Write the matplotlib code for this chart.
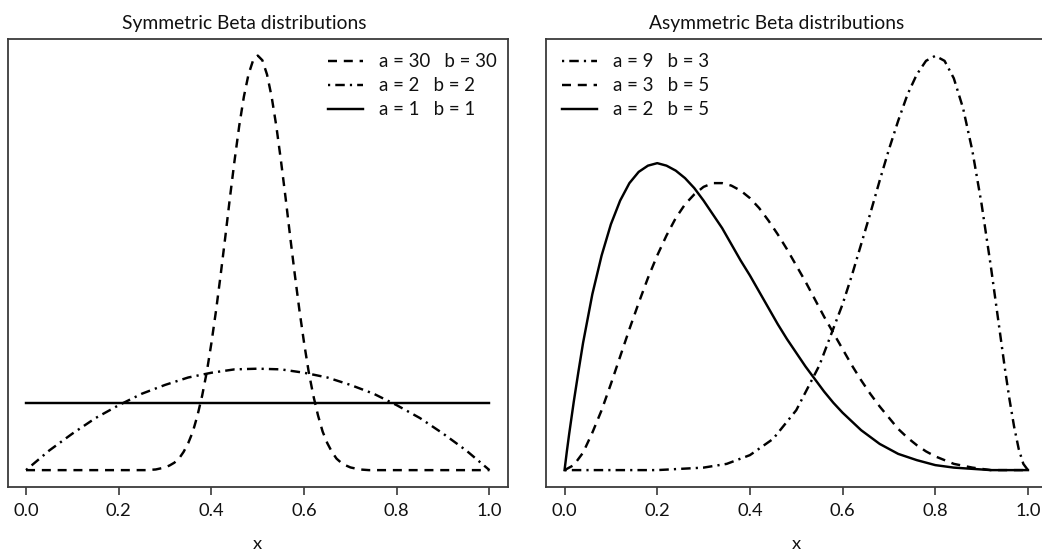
import matplotlib
matplotlib.use("Agg")
import matplotlib.pyplot as plt

plt.rcParams['font.family'] = ['Lato', 'DejaVu Sans']
plt.rcParams['font.size'] = 13

# densities (y in density units)
x_30 = [0.00, 0.20, 0.24, 0.26, 0.28,
        0.30, 0.31, 0.32, 0.33, 0.34, 0.35, 0.36, 0.37, 0.38, 0.39,
        0.40, 0.41, 0.42, 0.43, 0.44, 0.45, 0.46, 0.47, 0.48, 0.49,
        0.50, 0.51, 0.52, 0.53, 0.54, 0.55, 0.56, 0.57, 0.58, 0.59,
        0.60, 0.61, 0.62, 0.63, 0.64, 0.65, 0.66, 0.67, 0.68, 0.69,
        0.70, 0.72, 0.74, 0.76, 0.80, 1.00]
y_30 = [0.00, 0.00, 0.00, 0.00, 0.01,
        0.04, 0.07, 0.11, 0.17, 0.27, 0.40, 0.57, 0.81, 1.10, 1.45,
        1.88, 2.36, 2.89, 3.45, 4.03, 4.58, 5.09, 5.52, 5.85, 6.06,
        6.13, 6.06, 5.85, 5.52, 5.09, 4.58, 4.03, 3.45, 2.89, 2.36,
        1.88, 1.45, 1.10, 0.81, 0.57, 0.40, 0.27, 0.17, 0.11, 0.07,
        0.04, 0.01, 0.00, 0.00, 0.00, 0.00]

x_2 = [0.00, 0.05, 0.10, 0.15, 0.20, 0.25, 0.30, 0.35, 0.40, 0.45, 0.50,
       0.55, 0.60, 0.65, 0.70, 0.75, 0.80, 0.85, 0.90, 0.95, 1.00]
y_2 = [0.00, 0.29, 0.54, 0.77, 0.96, 1.13, 1.26, 1.37, 1.44, 1.49, 1.50,
       1.49, 1.44, 1.37, 1.26, 1.13, 0.96, 0.77, 0.54, 0.29, 0.00]

x_1 = [0.0, 1.0]
y_1 = [1.0, 1.0]

x_93 = [0.00, 0.10, 0.20, 0.30, 0.35, 0.40, 0.45, 0.50, 0.55,
        0.60, 0.62, 0.64, 0.66, 0.68, 0.70, 0.72, 0.74, 0.76, 0.78,
        0.80, 0.82, 0.84, 0.86, 0.88, 0.90, 0.92, 0.94,
        0.95, 0.96, 0.97, 0.98, 0.99, 1.00]
y_93 = [0.00, 0.00, 0.00, 0.02, 0.05, 0.12, 0.25, 0.48, 0.84,
        1.33, 1.56, 1.81, 2.06, 2.32, 2.57, 2.80, 3.01, 3.17, 3.28,
        3.32, 3.28, 3.14, 2.90, 2.56, 2.13, 1.63, 1.09,
        0.82, 0.57, 0.35, 0.17, 0.05, 0.00]

x_35 = [0.00, 0.02, 0.04, 0.06, 0.08, 0.10, 0.12, 0.14, 0.16, 0.18,
        0.20, 0.22, 0.24, 0.26, 0.28, 0.30, 0.32, 0.34, 0.36, 0.38,
        0.40, 0.42, 0.44, 0.46, 0.48, 0.50, 0.52, 0.54, 0.56, 0.58,
        0.60, 0.62, 0.64, 0.66, 0.68, 0.70, 0.72, 0.74, 0.76, 0.78,
        0.80, 0.84, 0.88, 0.92, 0.96, 1.00]
y_35 = [0.00, 0.04, 0.14, 0.30, 0.48, 0.69, 0.91, 1.13, 1.34, 1.54,
        1.72, 1.88, 2.02, 2.13, 2.21, 2.27, 2.30, 2.30, 2.28, 2.24,
        2.18, 2.10, 2.00, 1.89, 1.77, 1.64, 1.51, 1.37, 1.23, 1.10,
        0.97, 0.84, 0.72, 0.61, 0.51, 0.42, 0.33, 0.26, 0.20, 0.15,
        0.11, 0.05, 0.02, 0.00, 0.00, 0.00]

x_25 = [0.00, 0.005, 0.01, 0.02, 0.03, 0.04, 0.06, 0.08, 0.10, 0.12, 0.14,
        0.16, 0.18, 0.20, 0.22, 0.24, 0.26, 0.28, 0.30, 0.32, 0.34, 0.36,
        0.38, 0.40, 0.42, 0.44, 0.46, 0.48, 0.50, 0.52, 0.54, 0.56, 0.58,
        0.60, 0.64, 0.68, 0.72, 0.76, 0.80, 0.84, 0.88, 0.92, 0.96, 1.00]
y_25 = [0.00, 0.15, 0.29, 0.55, 0.79, 1.02, 1.41, 1.72, 1.97, 2.16, 2.30,
        2.39, 2.44, 2.46, 2.44, 2.40, 2.34, 2.26, 2.16, 2.05, 1.94, 1.81,
        1.68, 1.56, 1.43, 1.30, 1.17, 1.05, 0.94, 0.83, 0.73, 0.63, 0.54,
        0.46, 0.32, 0.21, 0.13, 0.08, 0.04, 0.02, 0.01, 0.00, 0.00, 0.00]

x_ticks = [0.0, 0.2, 0.4, 0.6, 0.8, 1.0]
x_ticklabels = ['0.0', '0.2', '0.4', '0.6', '0.8', '1.0']

# line styles
lw = 1.75
dashed = (3.7, 2.8)
dotdash = (0.9, 2.1, 3.9, 2.1)

fig = plt.figure(figsize=(10.42, 5.53), dpi=100)
W, H = 1042., 553.

def make_ax(left_px):
    ax = fig.add_axes([left_px / W, 1 - 486.7 / H, 500.5 / W, 447.7 / H])
    for s in ax.spines.values():
        s.set_color('#3a3a3a')
        s.set_linewidth(1.3)
    ax.set_yticks([])
    ax.set_xlim(-0.04, 1.04)
    ax.set_xticks(x_ticks)
    ax.set_xticklabels(x_ticklabels)
    ax.tick_params(axis='x', direction='out', length=5.5, width=1.2,
                   color='#3a3a3a', pad=6, labelsize=13.2, labelcolor='#111111')
    ax.set_xlabel('x', fontsize=13.2, labelpad=12.5, color='#111111')
    return ax

# left panel: symmetric
ax1 = make_ax(7.5)
ax1.plot(x_30, y_30, color='black', lw=lw, dashes=dashed, label='a = 30   b = 30')
ax1.plot(x_2, y_2, color='black', lw=lw, dashes=dotdash, label='a = 2   b = 2')
ax1.plot(x_1, y_1, color='black', lw=lw, label='a = 1   b = 1')
ax1.set_ylim(-0.245, 6.375)
ax1.legend(loc='upper left', bbox_to_anchor=(0.640, 0.968), frameon=False,
           borderpad=0, borderaxespad=0, handlelength=1.9, handletextpad=0.85,
           labelspacing=0.38, fontsize=13.4, labelcolor='#111111')

# right panel: asymmetric
ax2 = make_ax(546)
ax2.plot(x_93, y_93, color='black', lw=lw, dashes=dotdash, label='a = 9   b = 3')
ax2.plot(x_35, y_35, color='black', lw=lw, dashes=dashed, label='a = 3   b = 5')
ax2.plot(x_25, y_25, color='black', lw=lw, label='a = 2   b = 5')
ax2.set_ylim(-0.133, 3.455)
ax2.legend(loc='upper left', bbox_to_anchor=(0.032, 0.968), frameon=False,
           borderpad=0, borderaxespad=0, handlelength=1.9, handletextpad=0.85,
           labelspacing=0.38, fontsize=13.4, labelcolor='#111111')

# titles, not centred over the boxes in the original
fig.text(244 / W, 1 - 23 / H, 'Symmetric Beta distributions',
         ha='center', va='center', fontsize=13.9, color='#111111')
fig.text(777 / W, 1 - 23 / H, 'Asymmetric Beta distributions',
         ha='center', va='center', fontsize=13.9, color='#111111')

fig.savefig('out.png', dpi=100)
